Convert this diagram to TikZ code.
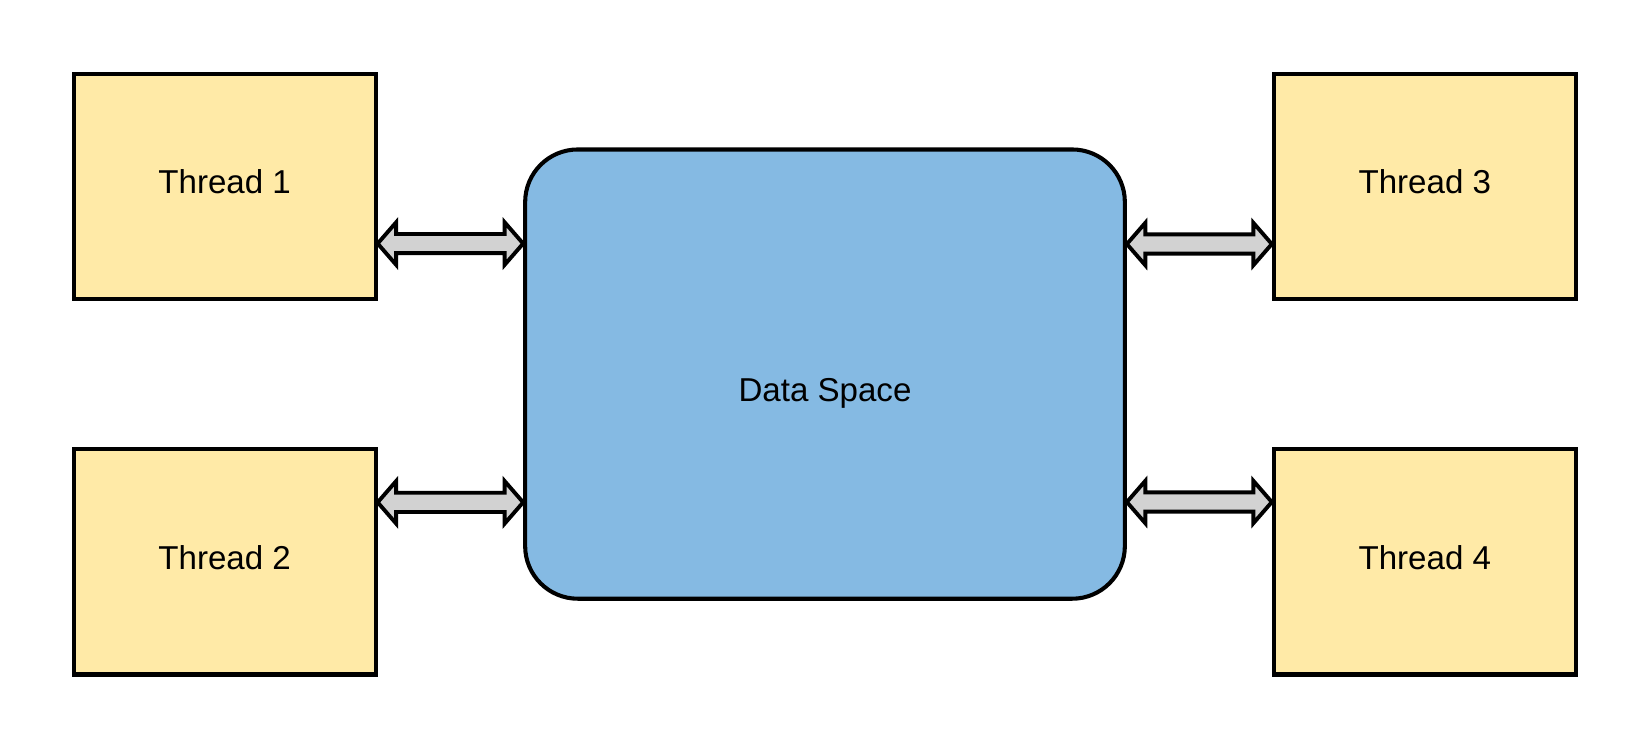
\documentclass[tikz,border=0pt]{standalone}
\usepackage{fontspec}
\setmainfont{Liberation Sans}
\usetikzlibrary{calc}
\definecolor{threadyellow}{HTML}{FFEAA7}
\definecolor{spaceblue}{HTML}{85BAE3}
\definecolor{arrowgray}{HTML}{D2D2D2}
\tikzset{
every node/.style=
    {draw=black,
    line width=2.2pt,
    align=center,
    font=\fontsize{17.9}{21}\selectfont
    },
thread/.style=
    {fill=threadyellow,
    rectangle,
    minimum width=5.74cm,
    minimum height=4.28cm,
    text depth=4.6pt
    },
dataspace/.style=
    {fill=spaceblue,
    rectangle,rounded corners=1cm,
    minimum width=11.4cm,
    minimum height=8.54cm,
    text height=33pt
    },
dblarrow/.style=
    {draw=black,
    fill=arrowgray,
    line width=2.1pt,
    line join=miter
    }}
\newcommand{\biarrow}[2]{%
\draw[dblarrow] let \p1=(#1), \p2=(#2) in
 (\x1,\y1) -- (\x1+10pt,\y1+11.5pt) -- (\x1+10pt,\y1+5.2pt) -- (\x2-10pt,\y1+5.2pt)
 -- (\x2-10pt,\y1+11.5pt) -- (\x2,\y1) -- (\x2-10pt,\y1-11.5pt) -- (\x2-10pt,\y1-5.2pt)
 -- (\x1+10pt,\y1-5.2pt) -- (\x1+10pt,\y1-11.5pt) -- cycle;}
\begin{document}
\begin{tikzpicture}[x=0.02cm,y=-0.02cm]
\useasboundingbox (0,0) rectangle (1568,712.7);
\node[thread] (t1) at (213.5,177) {Thread 1};
\node[thread] (t2) at (213.5,534) {Thread 2};
\node[thread] (t3) at (1354,177) {Thread 3};
\node[thread] (t4) at (1354,534) {Thread 4};
\node[dataspace] (ds) at (784,355.5) {Data Space};

\biarrow{$(t1.south east)!.25!(t1.north east)$}{ds.west}
\biarrow{$(t2.north east)!.24!(t2.south east)$}{ds.west}
\biarrow{$(ds.east |- t3.south)+(0,-54)$}{t3.west}
\biarrow{$(ds.east |- t4.north)+(0,52)$}{t4.west}

\end{tikzpicture}
\end{document}
